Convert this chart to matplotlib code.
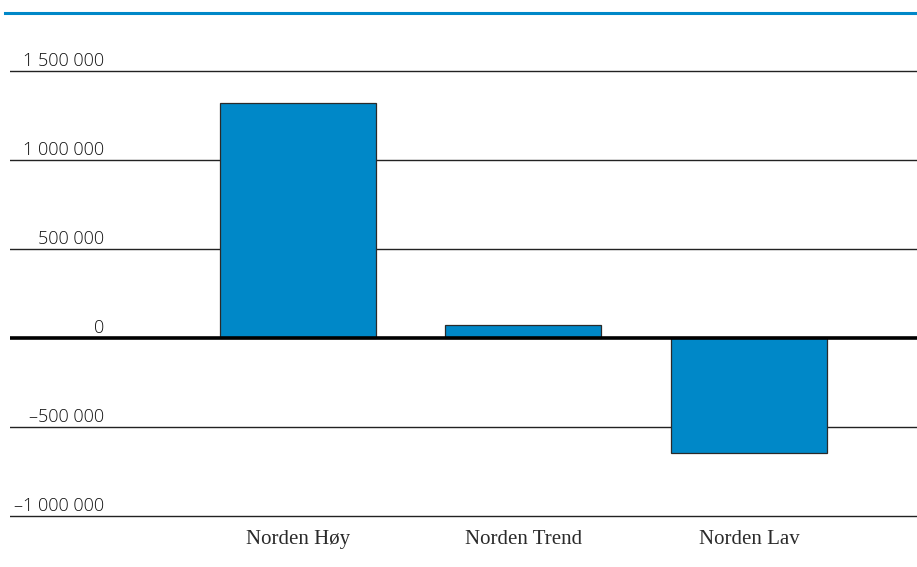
import matplotlib
matplotlib.use("Agg")
import matplotlib.pyplot as plt
from matplotlib.lines import Line2D

categories = ["Norden Høy", "Norden Trend", "Norden Lav"]
values = [1320000, 73000, -646000]
tick_values = [1500000, 1000000, 500000, 0, -500000, -1000000]
tick_labels = ["1 500 000", "1 000 000", "500 000", "0", "\u2013500 000", "\u20131 000 000"]

W, H = 917, 567
fig = plt.figure(figsize=(W / 100, H / 100), dpi=100)

# px mapping: 1.5M at y=71, -1M at y=516
pad = 10000
ppu = 89 / 500000
top_px = 71 - pad * ppu
bot_px = 516 + pad * ppu
left_px, right_px = 10, 917
ax = fig.add_axes([left_px / W, 1 - bot_px / H, (right_px - left_px) / W, (bot_px - top_px) / H])
ax.set_ylim(-1000000 - pad, 1500000 + pad)

sp = 225.5
x0 = (left_px - 298) / sp
x1 = (right_px - 298) / sp
ax.set_xlim(x0, x1)

for s in ax.spines.values():
    s.set_visible(False)
ax.set_xticks([])
ax.set_yticks([])

for v in tick_values:
    if v == 0:
        continue
    ax.axhline(v, color="#222222", lw=1.0, zorder=1)

xs = list(range(len(categories)))
ax.bar(xs, values, width=156 / sp, color="#0088C8", edgecolor="#2a2a2a", linewidth=0.9, zorder=2)
ax.axhline(0, color="black", lw=2.6, zorder=3)

ytr = ax.get_yaxis_transform()
lab_x = (104 - left_px) / (right_px - left_px)
for v, t in zip(tick_values, tick_labels):
    ax.annotate(t, xy=(lab_x, v), xycoords=ytr, xytext=(0, 3.6), textcoords="offset points",
                ha="right", va="baseline", fontsize=13, family="Open Sans", fontweight="light",
                color="#111111")

xtr = ax.get_xaxis_transform()
for x, c in zip(xs, categories):
    ax.annotate(c, xy=(x, 0), xycoords=xtr, xytext=(0, -18.7), textcoords="offset points",
                ha="center", va="baseline", fontsize=15, family="Liberation Serif", color="#2a2a2a")

# top blue rule
fig.add_artist(Line2D([5 / W, 1], [1 - 13 / H, 1 - 13 / H], transform=fig.transFigure,
                      color="#0088C8", lw=2.2))

fig.savefig("out.png", dpi=100)
